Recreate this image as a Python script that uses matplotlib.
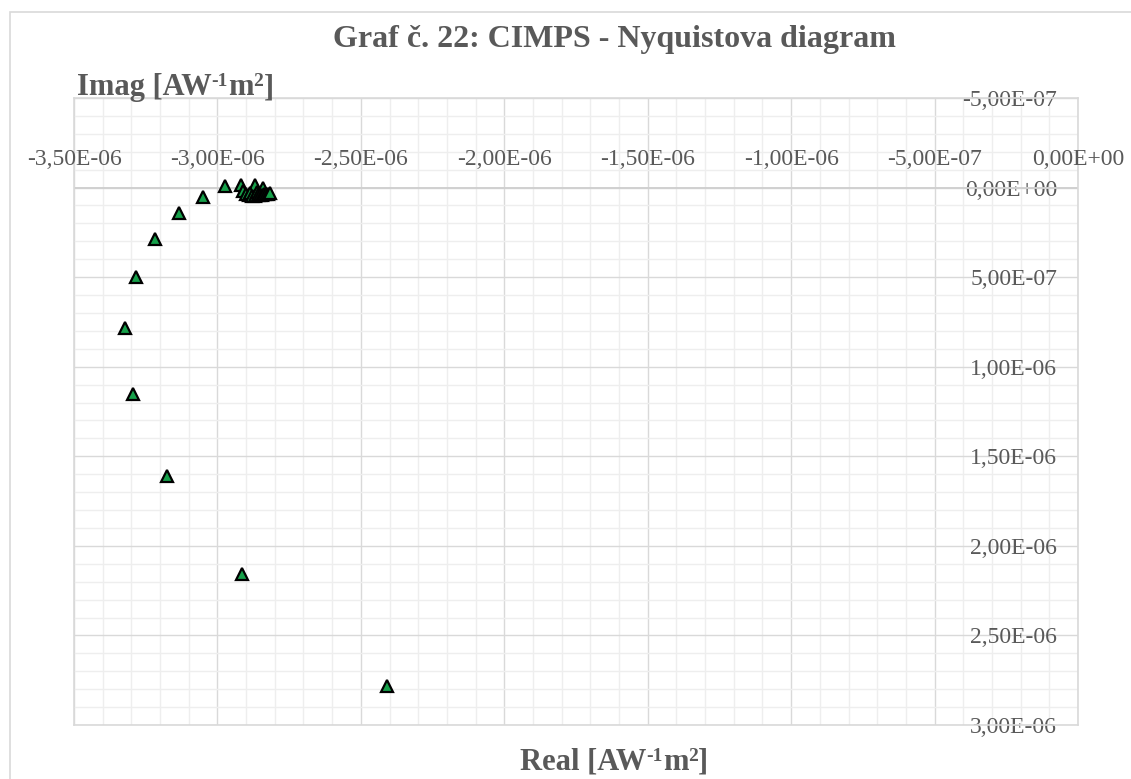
import matplotlib
matplotlib.use('Agg')
import matplotlib.pyplot as plt
import matplotlib.transforms as mtrans
from matplotlib.patches import Rectangle
from matplotlib.ticker import MultipleLocator

# ---- data ----
real = [-2.409e-6, -2.915e-6, -3.176e-6, -3.294e-6, -3.322e-6, -3.284e-6,
        -3.218e-6, -3.134e-6, -3.051e-6, -2.974e-6,
        -2.918e-6, -2.869e-6, -2.841e-6, -2.911e-6, -2.901e-6, -2.890e-6,
        -2.887e-6, -2.880e-6, -2.869e-6, -2.862e-6, -2.859e-6, -2.852e-6,
        -2.845e-6, -2.838e-6, -2.831e-6, -2.824e-6, -2.817e-6]
imag = [2.782e-6, 2.156e-6, 1.609e-6, 1.151e-6, 0.782e-6, 0.497e-6,
        0.285e-6, 0.140e-6, 0.050e-6, -0.006e-6,
        -0.017e-6, -0.017e-6, 0.000e-6, 0.017e-6, 0.034e-6, 0.039e-6,
        0.028e-6, 0.045e-6, 0.045e-6, 0.022e-6, 0.039e-6, 0.039e-6,
        0.039e-6, 0.034e-6, 0.034e-6, 0.034e-6, 0.028e-6]

x_ticks = [-3.5e-6, -3.0e-6, -2.5e-6, -2.0e-6, -1.5e-6, -1.0e-6, -5.0e-7, 0.0]
x_tick_labels = ['-3,50E-06', '-3,00E-06', '-2,50E-06', '-2,00E-06',
                 '-1,50E-06', '-1,00E-06', '-5,00E-07', '0,00E+00']
y_ticks = [-5.0e-7, 0.0, 5.0e-7, 1.0e-6, 1.5e-6, 2.0e-6, 2.5e-6, 3.0e-6]
y_tick_labels = ['-5,00E-07', '0,00E+00', '5,00E-07', '1,00E-06',
                 '1,50E-06', '2,00E-06', '2,50E-06', '3,00E-06']

title = 'Graf č. 22: CIMPS - Nyquistova diagram'
# axis titles as (text, is_superscript) pieces
xlabel_parts = [('Real [AW', False), ('-1', True), ('m', False), ('2', True), (']', False)]
ylabel_parts = [('Imag [AW', False), ('-1', True), ('m', False), ('2', True), (']', False)]

# ---- style ----
plt.rcParams['font.family'] = ['Liberation Serif', 'DejaVu Serif']
TXT = '#595959'
W, H = 1131, 779

fig = plt.figure(figsize=(W / 100, H / 100), dpi=100)
fig.patch.set_facecolor('white')
renderer = fig.canvas.get_renderer()

# outer chart border
fig.patches.append(Rectangle((10 / W, -0.05), 1.1, 1 - 12 / H + 0.05,
                             transform=fig.transFigure, fill=False,
                             edgecolor='#d9d9d9', lw=1.2))

ax = fig.add_axes([74 / W, 1 - 725 / H, (1078 - 74) / W, (725 - 98) / H])
ax.set_xlim(x_ticks[0], x_ticks[-1])
ax.set_ylim(y_ticks[-1], y_ticks[0])

ax.set_xticks(x_ticks)
ax.set_yticks(y_ticks)
ax.xaxis.set_minor_locator(MultipleLocator(1e-7))
ax.yaxis.set_minor_locator(MultipleLocator(1e-7))
ax.grid(which='minor', color='#eeeeee', lw=1.0)
ax.grid(which='major', color='#d9d9d9', lw=1.0)
ax.set_axisbelow(True)
for s in ax.spines.values():
    s.set_color('#d9d9d9')
    s.set_linewidth(1.2)

ax.tick_params(axis='x', which='both', length=0, labelbottom=False)
ax.yaxis.tick_right()
ax.tick_params(axis='y', which='both', length=0, pad=-15,
               labelsize=17, labelcolor=TXT)
ax.set_yticklabels(y_tick_labels)
for lbl in ax.get_yticklabels():
    lbl.set_horizontalalignment('right')

# horizontal axis line at zero and its labels above it
ax.axhline(0, color='#d0d0d0', lw=1.4, zorder=1)
off = mtrans.offset_copy(ax.transData, fig=fig, x=0, y=28, units='dots')
for xv, lab in zip(x_ticks, x_tick_labels):
    ax.text(xv, 0, lab, transform=off, ha='center', va='center',
            fontsize=17, color=TXT, clip_on=False)

ax.plot(real, imag, linestyle='none', marker='^', markersize=8.5,
        markerfacecolor='#16a04a', markeredgecolor='black',
        markeredgewidth=1.6, zorder=3, clip_on=False)

fig.text(614 / W, 1 - 39 / H, title, ha='center', va='center',
         fontsize=23, fontweight='bold', color=TXT)


def rich_label(x_px, base_px, parts, ha='left', size=22, sup_size=14, sup_raise=9):
    widths = []
    for t, sup in parts:
        tmp = fig.text(0, 0, t, fontsize=sup_size if sup else size,
                       fontweight='bold')
        widths.append(tmp.get_window_extent(renderer).width)
        tmp.remove()
    x = x_px - (sum(widths) / 2 if ha == 'center' else 0)
    for (t, sup), w in zip(parts, widths):
        y = base_px - (sup_raise if sup else 0)
        fig.text(x / W, 1 - y / H, t, ha='left', va='baseline',
                 fontsize=sup_size if sup else size, fontweight='bold',
                 color=TXT)
        x += w


rich_label(77, 95, ylabel_parts, ha='left')
rich_label(614, 770, xlabel_parts, ha='center')

fig.savefig('out.png', dpi=100)
